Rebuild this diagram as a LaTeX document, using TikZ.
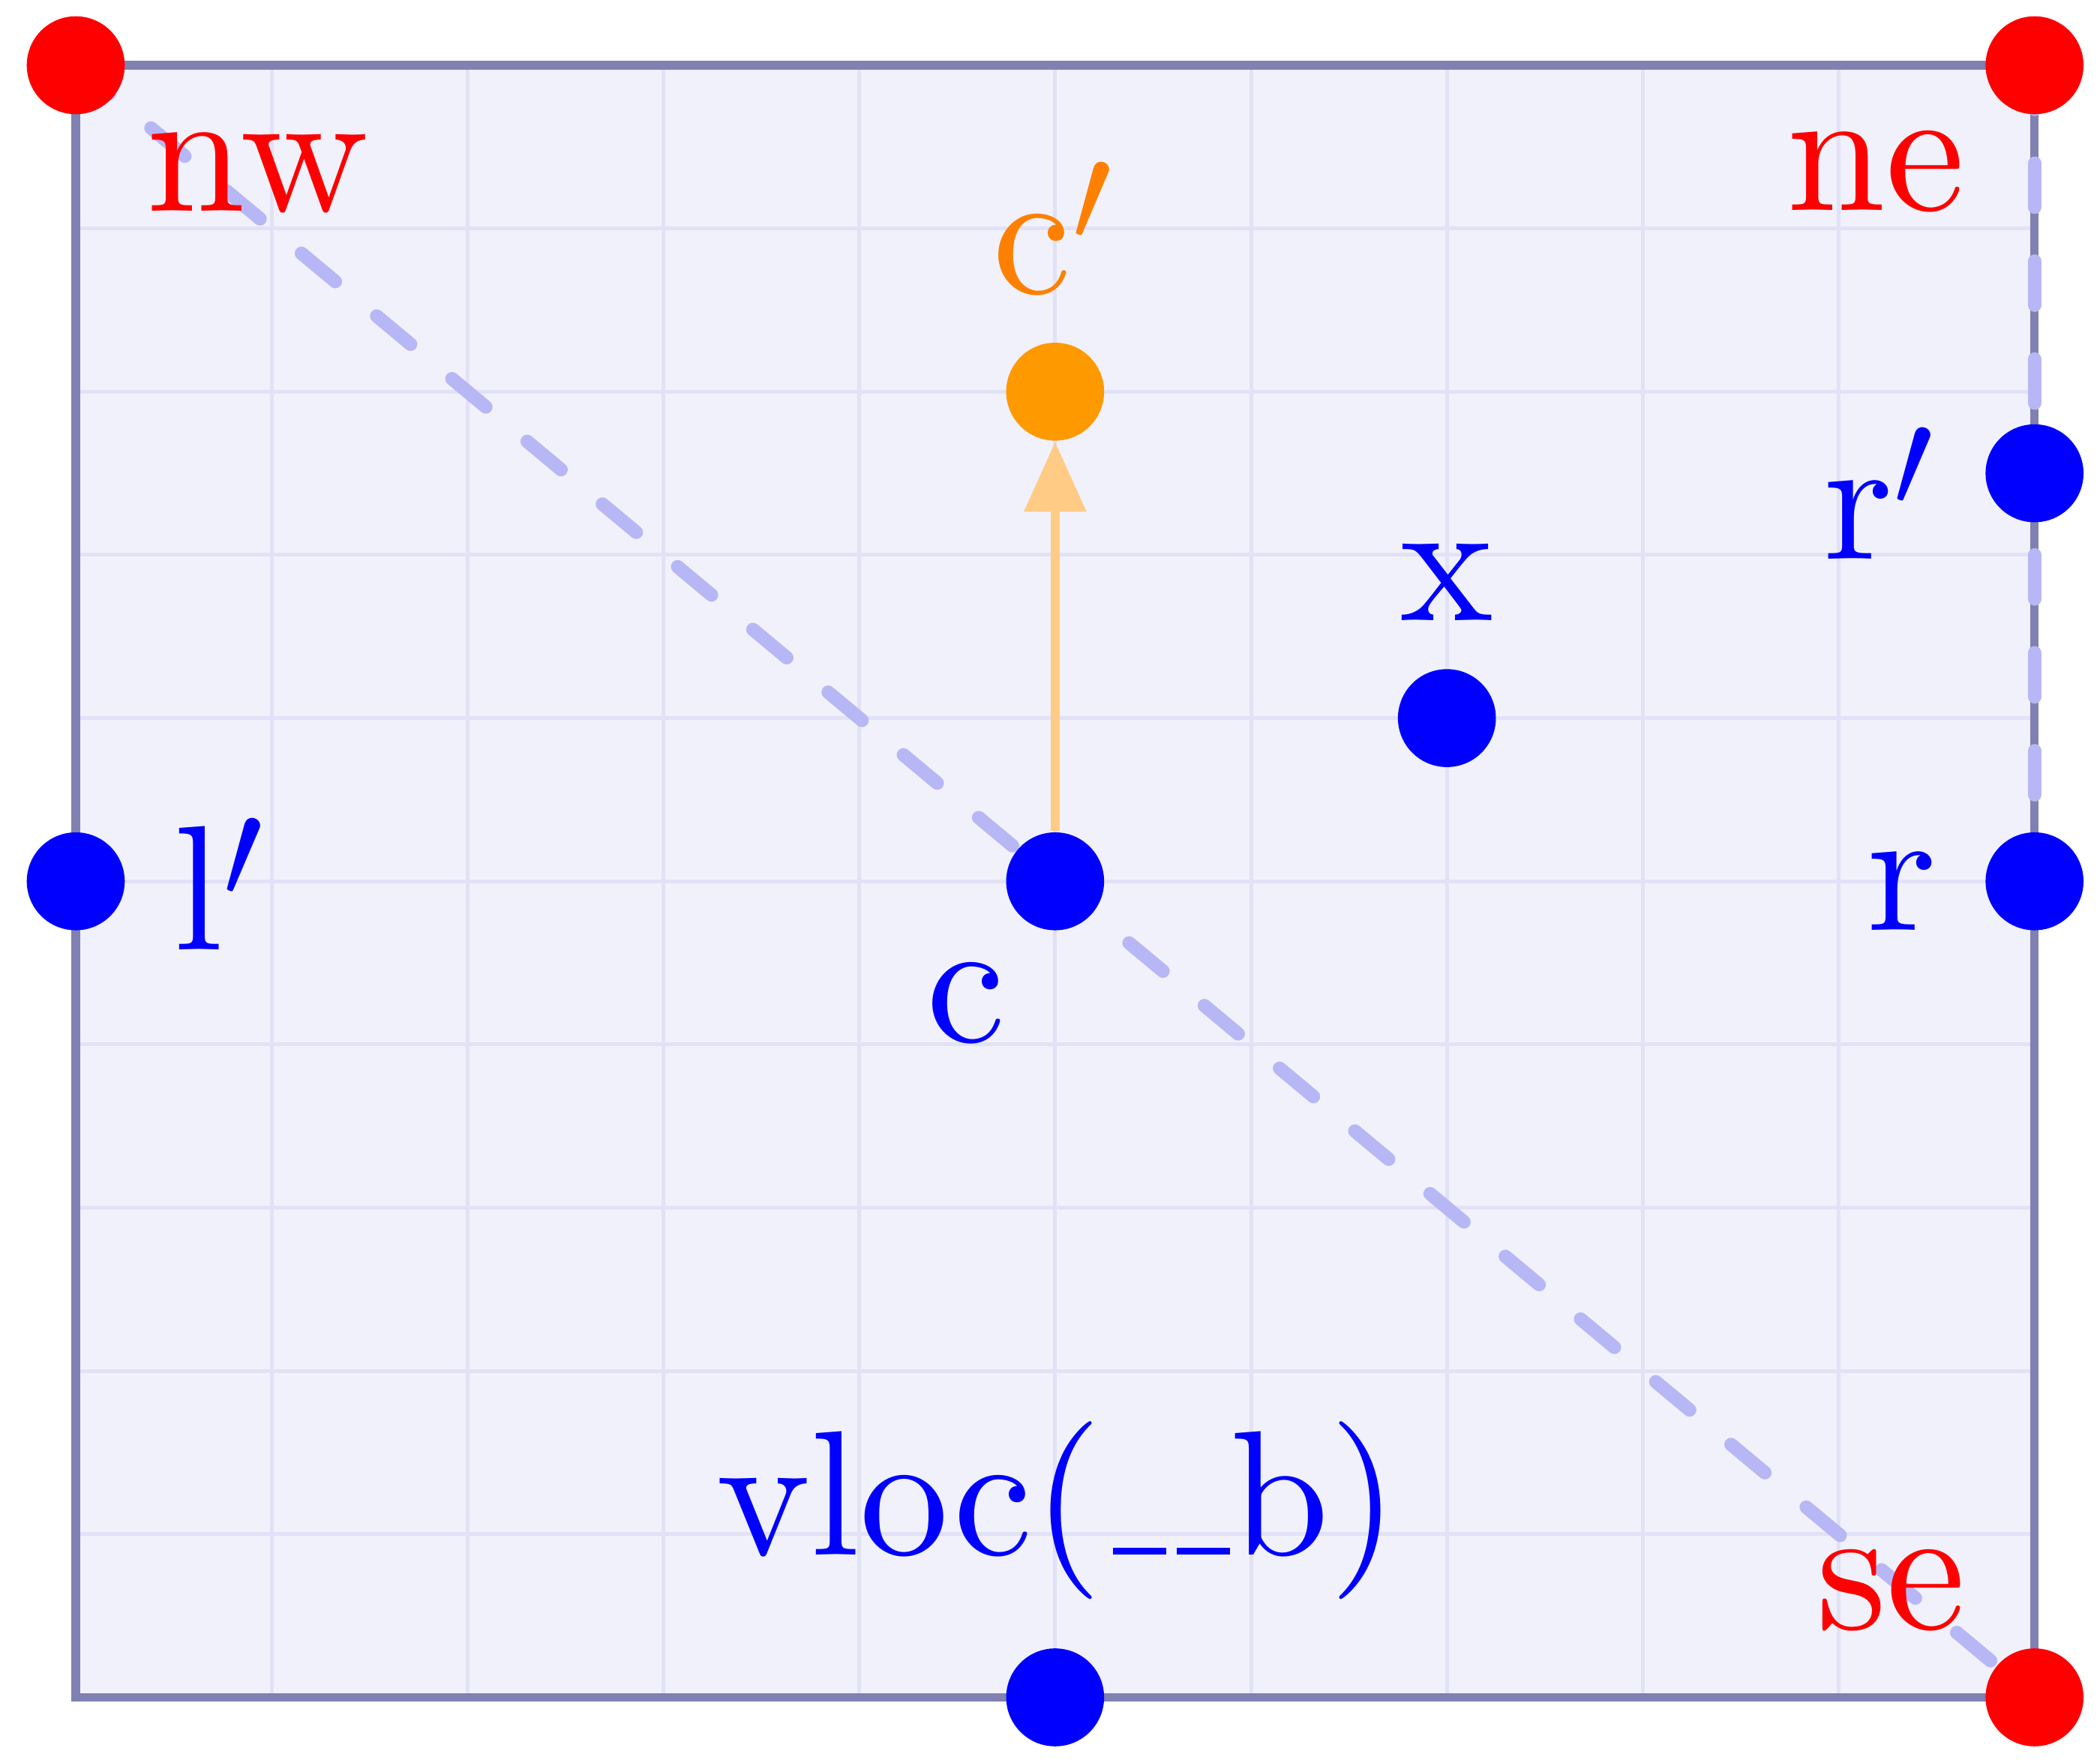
\documentclass[tikz,border=0pt]{standalone}
\usepackage{fontspec}
\usetikzlibrary{arrows.meta}
\newfontfamily\lmten{lmroman10-regular.otf}
\DeclareMathSizes{31}{31}{26.5}{19}
\definecolor{rectfill}{RGB}{241,241,251}
\definecolor{gridc}{RGB}{225,225,247}
\definecolor{borderc}{RGB}{128,128,178}
\definecolor{dashc}{RGB}{183,183,246}
\definecolor{dotorange}{RGB}{255,153,0}
\definecolor{arrowc}{RGB}{255,203,133}
\definecolor{labelorange}{RGB}{255,128,0}
\newcommand\usc{\kern.06em\rule{.3em}{1.2pt}}
\begin{document}
\begin{tikzpicture}[
  dot/.style={circle, inner sep=0pt, minimum size=0.6cm, fill=#1},
  lbl/.style={text=#1, font=\fontsize{31}{37}\selectfont\lmten, anchor=base, inner sep=0pt},
  diag/.style={draw=dashc, line width=2.35pt, line cap=round, dash pattern=on 0.27cm off 0.33cm},
]
\useasboundingbox (-0.464,-0.4) rectangle (12.401,10.4);
\fill[rectfill] (0,0) rectangle (12,10);
\draw[gridc, line width=0.65pt, xstep=1.2, ystep=1] (0,0) grid (12,10);
\draw[borderc, line width=1.5pt] (0,0) rectangle (12,10);
\coordinate (nw) at (0,10);
\coordinate (ne) at (12,10);
\coordinate (se) at (12,0);
\coordinate (r) at (12,5);
\draw[diag] (nw) -- (se);
\draw[diag] (ne) -- (r);
\node[dot=red] (nwd) at (nw) {};
\node[dot=red] (ned) at (ne) {};
\node[dot=red] (sed) at (se) {};
\node[dot=blue] (rd) at (r) {};
\node[dot=blue] (rpd) at (12,7.5) {};
\node[dot=blue] (lpd) at (0,5) {};
\node[dot=blue] (cd) at (6,5) {};
\node[dot=blue] (xd) at (8.4,6) {};
\node[dot=blue] (bd) at (6,0) {};
\node[dot=dotorange] (cpd) at (6,8) {};
\draw[arrowc, line width=1.6pt, -{Triangle[length=12.2pt,width=10.5pt]}] (cd) -- (cpd);
\node[lbl=red] (nwl) at (1.114,9.106) {nw};
\node[lbl=red] (nel) at (11.027,9.111) {ne};
\node[lbl=red] (sel) at (11.121,0.418) {se};
\node[lbl=labelorange] (cpl) at (5.99,8.60) {c$'$};
\node[lbl=blue] (rpl) at (11.05,6.975) {r$'$};
\node[lbl=blue] (xl) at (8.40,6.60) {x};
\node[lbl=blue] (lpl) at (0.88,4.58) {l$'$};
\node[lbl=blue] (rl) at (11.19,4.70) {r};
\node[lbl=blue] (cl) at (5.453,4.016) {c};
\node[lbl=blue] (vl) at (6.015,0.873) {vloc(\usc\usc b)};
\end{tikzpicture}
\end{document}
